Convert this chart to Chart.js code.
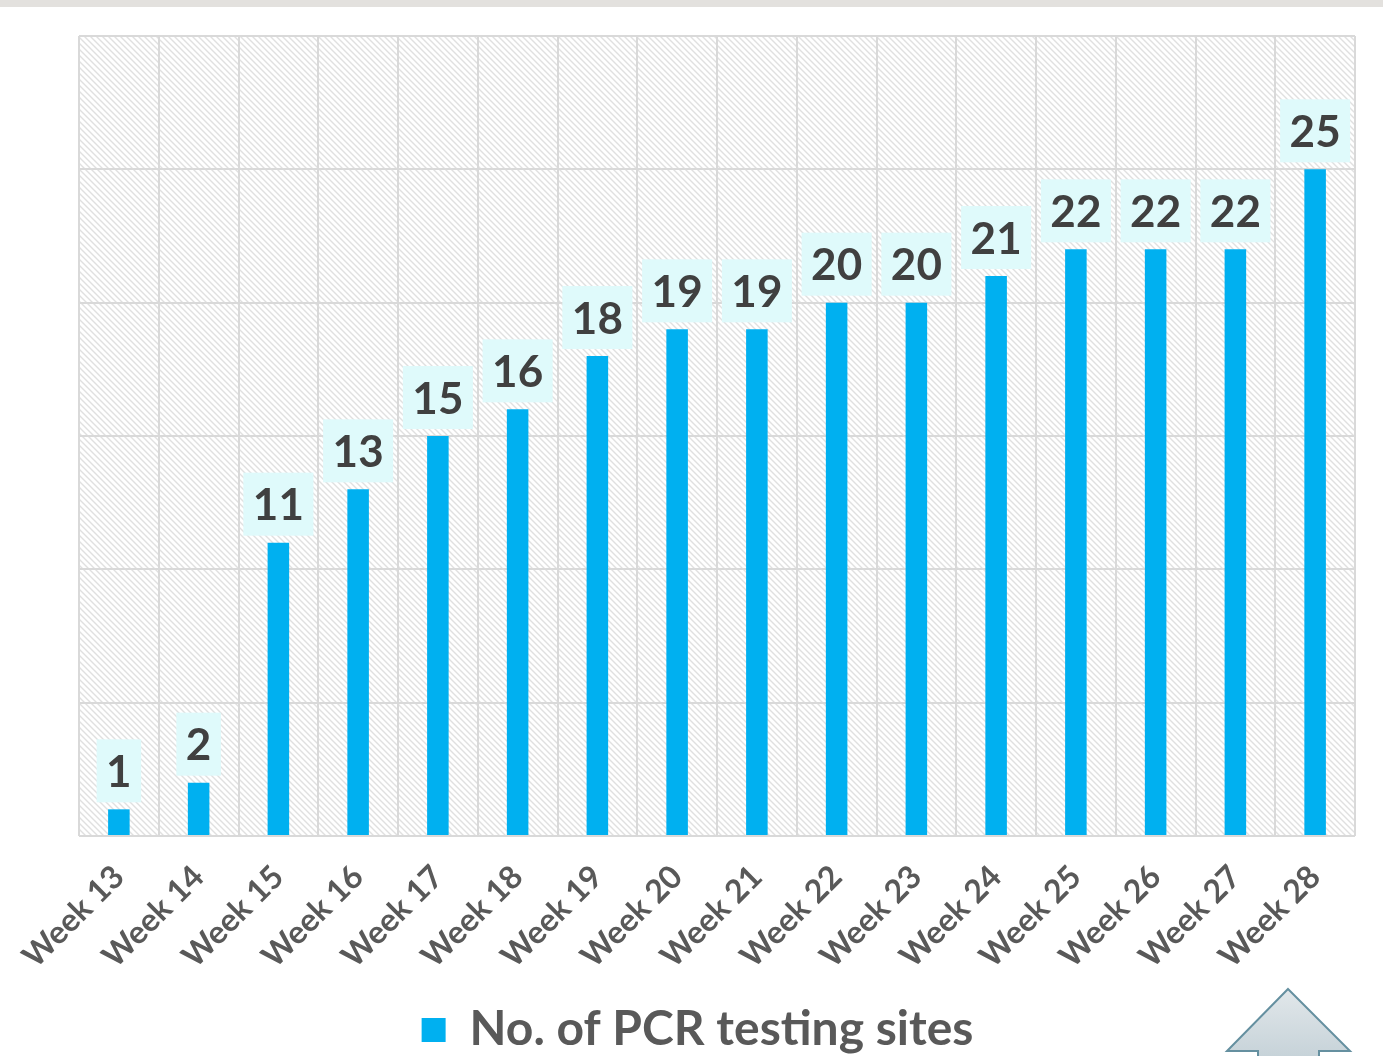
<!DOCTYPE html>
<html>
<head>
<meta charset="utf-8">
<script src="https://cdn.jsdelivr.net/npm/chart.js@4"></script>
<style>
  html, body { margin: 0; padding: 0; background: #fff; }
  #wrap { width: 1383px; height: 1056px; position: relative; }
</style>
</head>
<body>
<div id="wrap"><canvas id="pcrChart"></canvas></div>
<script>
// 데이터
const weeks = ['Week 13', 'Week 14', 'Week 15', 'Week 16', 'Week 17', 'Week 18', 'Week 19', 'Week 20',
  'Week 21', 'Week 22', 'Week 23', 'Week 24', 'Week 25', 'Week 26', 'Week 27', 'Week 28'];
const siteCounts = [1, 2, 11, 13, 15, 16, 18, 19, 19, 20, 20, 21, 22, 22, 22, 25];
const seriesName = 'No. of PCR testing sites';
const yMax = 30;
const yStep = 5;

const FONT = 'Lato, "Open Sans", sans-serif';

// 빗금 배경 패턴
function makeHatch() {
  const c = document.createElement('canvas');
  c.width = 6; c.height = 6;
  const g = c.getContext('2d');
  g.fillStyle = '#ffffff';
  g.fillRect(0, 0, 6, 6);
  g.strokeStyle = '#e0e0e0';
  g.lineWidth = 1.4;
  g.beginPath();
  g.moveTo(-1, -1); g.lineTo(7, 7);
  g.moveTo(-1, 5); g.lineTo(1, 7);
  g.moveTo(5, -1); g.lineTo(7, 1);
  g.stroke();
  return g.createPattern(c, 'repeat');
}

// 플롯 배경 + 상단 띠
const backdrop = {
  id: 'backdrop',
  beforeDraw(chart) {
    const { ctx, chartArea: a } = chart;
    ctx.save();
    ctx.fillStyle = '#e3e1de';
    ctx.fillRect(0, 0, chart.width, 7);
    ctx.fillStyle = makeHatch();
    ctx.fillRect(a.left, a.top, a.right - a.left, a.bottom - a.top);
    ctx.restore();
  }
};

// 값 라벨 박스
const labelBoxes = {
  id: 'labelBoxes',
  afterDatasetsDraw(chart) {
    const ctx = chart.ctx;
    const meta = chart.getDatasetMeta(0);
    ctx.save();
    ctx.font = 'bold 44px ' + FONT;
    ctx.textAlign = 'center';
    ctx.textBaseline = 'middle';
    meta.data.forEach((bar, i) => {
      const txt = String(siteCounts[i]);
      const w = ctx.measureText(txt).width + 19;
      const h = 63;
      const x = bar.x - w / 2;
      const y = bar.y - 7 - h;
      ctx.fillStyle = '#dffafb';
      ctx.fillRect(x, y, w, h);
      ctx.fillStyle = '#404040';
      ctx.fillText(txt, bar.x, y + h / 2 + 2);
    });
    ctx.restore();
  }
};

// 오른쪽 아래 화살표 장식
const arrowDeco = {
  id: 'arrowDeco',
  afterDraw(chart) {
    const ctx = chart.ctx;
    ctx.save();
    const grad = ctx.createLinearGradient(0, 990, 0, 1056);
    grad.addColorStop(0, '#e1e7ea');
    grad.addColorStop(1, '#c7d3d9');
    ctx.beginPath();
    ctx.moveTo(1288, 989);
    ctx.lineTo(1350, 1051);
    ctx.lineTo(1319, 1051);
    ctx.lineTo(1319, 1060);
    ctx.lineTo(1258, 1060);
    ctx.lineTo(1258, 1051);
    ctx.lineTo(1227, 1051);
    ctx.closePath();
    ctx.fillStyle = grad;
    ctx.fill();
    ctx.strokeStyle = '#6590a0';
    ctx.lineWidth = 2;
    ctx.stroke();
    ctx.restore();
  }
};

new Chart(document.getElementById('pcrChart'), {
  type: 'bar',
  data: {
    labels: weeks,
    datasets: [{
      label: seriesName,
      data: siteCounts,
      backgroundColor: '#00b0f0',
      categoryPercentage: 1,
      barPercentage: 0.27
    }]
  },
  options: {
    responsive: true,
    maintainAspectRatio: false,
    animation: false,
    layout: { padding: { left: 40, right: 28, top: 36, bottom: -8 } },
    plugins: {
      legend: {
        position: 'bottom',
        labels: {
          font: { family: FONT, size: 48, weight: 'bold' },
          color: '#595959',
          boxWidth: 24,
          boxHeight: 24,
          padding: 8
        }
      },
      tooltip: { enabled: false }
    },
    scales: {
      x: {
        grid: { color: '#d9d9d9', lineWidth: 2, offset: true, drawTicks: false },
        border: { display: false },
        ticks: {
          minRotation: 45,
          maxRotation: 45,
          padding: 22,
          color: '#595959',
          font: { family: FONT, size: 32, weight: 'bold' }
        },
        afterFit: scale => { scale.height = 162; }
      },
      y: {
        min: 0,
        max: yMax,
        ticks: { display: false, stepSize: yStep },
        grid: { color: '#d9d9d9', lineWidth: 2, drawTicks: false },
        border: { display: false },
        afterFit: scale => { scale.width = 39; }
      }
    }
  },
  plugins: [backdrop, labelBoxes, arrowDeco]
});
</script>
</body>
</html>
